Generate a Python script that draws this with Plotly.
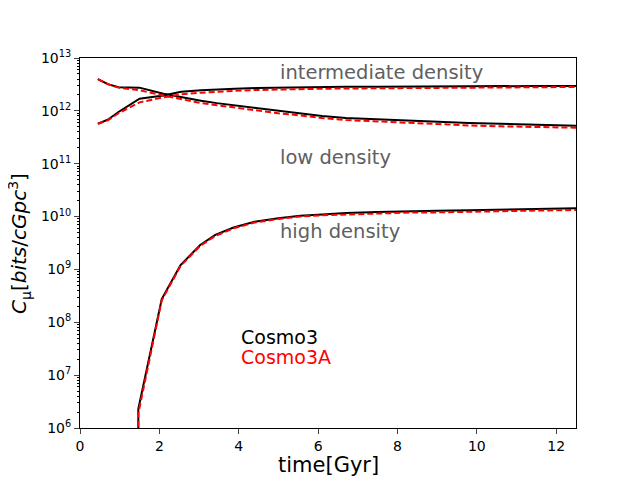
import plotly.graph_objects as go

# snapshot times [Gyr]
t = [0.45, 0.7, 0.97, 1.5, 2.1, 2.55, 3.05, 3.45, 3.9, 4.45, 5.0, 5.55,
     6.1, 6.7, 7.5, 8.3, 9.0, 9.8, 10.6, 11.5, 12.5]
t_high = [1.47, 1.47, 2.06, 2.53, 3.03, 3.41, 3.87, 4.4, 5.0, 5.55, 6.1,
          6.7, 7.5, 8.3, 9.0, 9.8, 10.6, 11.5, 12.5]

# Cosmo3
low_c3 = [4.0e12, 3.2e12, 2.8e12, 2.75e12, 2.1e12, 1.8e12, 1.55e12, 1.4e12,
          1.27e12, 1.12e12, 1.0e12, 9.0e11, 8.0e11, 7.3e11, 6.9e11, 6.5e11,
          6.1e11, 5.9e11, 5.7e11, 5.4e11, 5.2e11]
inter_c3 = [5.7e11, 6.8e11, 9.5e11, 1.7e12, 1.95e12, 2.3e12, 2.45e12, 2.55e12,
            2.62e12, 2.7e12, 2.75e12, 2.8e12, 2.82e12, 2.85e12, 2.87e12, 2.9e12,
            2.92e12, 2.93e12, 2.95e12, 2.95e12, 2.95e12]
high_c3 = [1e5, 2.3e6, 2.75e8, 1.2e9, 2.9e9, 4.5e9, 6.2e9, 8.0e9, 9.3e9,
           1.04e10, 1.1e10, 1.17e10, 1.22e10, 1.27e10, 1.29e10, 1.32e10,
           1.35e10, 1.38e10, 1.43e10]

# Cosmo3A
low_c3a = [4.0e12, 3.2e12, 2.75e12, 2.45e12, 1.95e12, 1.65e12, 1.4e12, 1.28e12,
           1.15e12, 1.02e12, 9.0e11, 8.2e11, 7.3e11, 6.7e11, 6.3e11, 5.8e11,
           5.5e11, 5.3e11, 5.1e11, 4.9e11, 4.8e11]
inter_c3a = [5.7e11, 6.6e11, 9.0e11, 1.45e12, 1.8e12, 2.05e12, 2.2e12, 2.3e12,
             2.4e12, 2.48e12, 2.55e12, 2.6e12, 2.62e12, 2.65e12, 2.68e12, 2.72e12,
             2.75e12, 2.77e12, 2.8e12, 2.82e12, 2.83e12]
high_c3a = [1e5, 1.9e6, 2.6e8, 1.15e9, 2.8e9, 4.3e9, 6.0e9, 7.7e9, 9.0e9,
            1.0e10, 1.06e10, 1.1e10, 1.15e10, 1.19e10, 1.2e10, 1.24e10,
            1.27e10, 1.3e10, 1.33e10]

decades = list(range(6, 14))
ytick_text = ['10<sup>%d</sup>' % d for d in decades]

fig = go.Figure()
black = dict(color='black', width=2)
red = dict(color='red', width=2, dash='6px,3px')
for x, y in [(t, low_c3), (t, inter_c3), (t_high, high_c3)]:
    fig.add_trace(go.Scatter(x=x, y=y, mode='lines', line=black))
for x, y in [(t, low_c3a), (t, inter_c3a), (t_high, high_c3a)]:
    fig.add_trace(go.Scatter(x=x, y=y, mode='lines', line=red))

grey = dict(size=19.5, color='#606060')
fig.add_annotation(x=5, y=12.735, text='intermediate density', showarrow=False,
                   xanchor='left', yanchor='middle', font=grey)
fig.add_annotation(x=5, y=11.127, text='low density', showarrow=False,
                   xanchor='left', yanchor='middle', font=grey)
fig.add_annotation(x=5, y=9.727, text='high density', showarrow=False,
                   xanchor='left', yanchor='middle', font=grey)
fig.add_annotation(x=4, y=7.72, text='Cosmo3', showarrow=False,
                   xanchor='left', yanchor='middle', font=dict(size=19, color='black'))
fig.add_annotation(x=4, y=7.34, text='Cosmo3A', showarrow=False,
                   xanchor='left', yanchor='middle', font=dict(size=19, color='red'))

# axis titles
fig.add_annotation(xref='paper', yref='paper', x=0.5, y=-0.1, text='time[Gyr]',
                   showarrow=False, xanchor='center', yanchor='middle',
                   font=dict(size=21))
fig.add_annotation(xref='paper', yref='paper', x=-0.123, y=0.5, textangle=-90,
                   text='<i>C</i><sub>μ</sub>[<i>bits</i>/<i>cGpc</i><sup>3</sup>]',
                   showarrow=False, xanchor='center', yanchor='middle',
                   font=dict(size=20))

# page body adds an 8px offset, so margins are shifted to compensate
fig.update_layout(
    width=640, height=480,
    margin=dict(l=72, r=72, t=50, b=60),
    plot_bgcolor='white', paper_bgcolor='white',
    showlegend=False,
    font=dict(family='DejaVu Sans', size=14, color='black'),
)
fig.update_xaxes(range=[0, 12.5], tickvals=[0, 2, 4, 6, 8, 10, 12],
                 ticks='outside', ticklen=5, showline=True, linecolor='black',
                 mirror=True, showgrid=False, zeroline=False, automargin=False)
fig.update_yaxes(type='log', range=[6, 13],
                 tickvals=[10 ** d for d in decades], ticktext=ytick_text,
                 ticks='outside', ticklen=5, showline=True, linecolor='black',
                 mirror=True, showgrid=False, zeroline=False, automargin=False,
                 minor=dict(ticks='outside', ticklen=2, tickcolor='black',
                            tickvals=[k * 10 ** d for d in range(6, 13) for k in range(2, 10)]))

fig.write_html("out.html")
